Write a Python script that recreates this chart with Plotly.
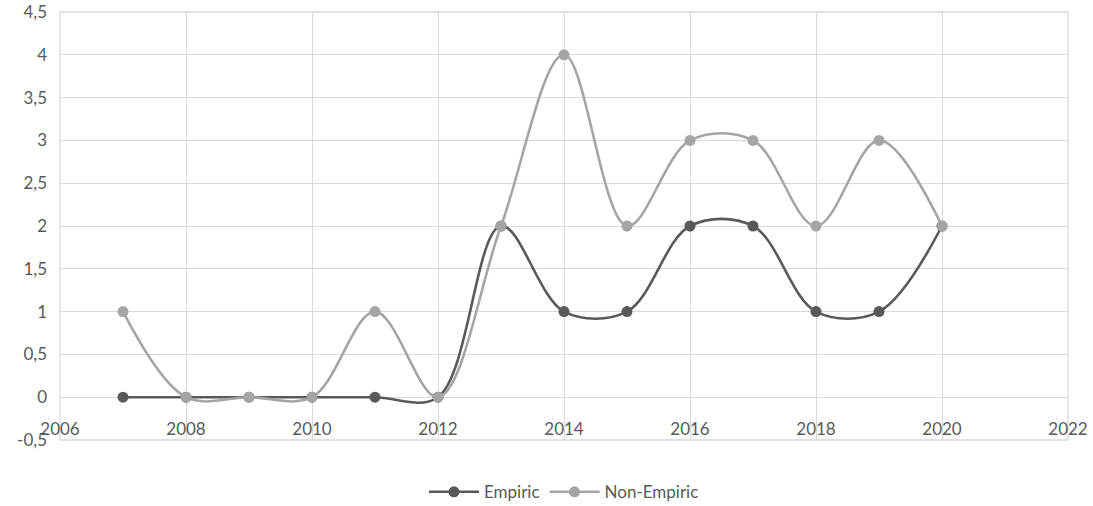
import plotly.graph_objects as go

years = [2007, 2008, 2009, 2010, 2011, 2012, 2013, 2014, 2015, 2016, 2017, 2018, 2019, 2020]
empiric = [0, 0, 0, 0, 0, 0, 2, 1, 1, 2, 2, 1, 1, 2]
non_empiric = [1, 0, 0, 0, 1, 0, 2, 4, 2, 3, 3, 2, 3, 2]

x_ticks = [2006, 2008, 2010, 2012, 2014, 2016, 2018, 2020, 2022]
y_ticks = [-0.5, 0, 0.5, 1, 1.5, 2, 2.5, 3, 3.5, 4, 4.5]
y_labels = ["-0,5", "0", "0,5", "1", "1,5", "2", "2,5", "3", "3,5", "4", "4,5"]

font_color = "#595959"
grid_color = "#d9d9d9"

fig = go.Figure()
fig.add_trace(go.Scatter(
    x=years, y=empiric, name="Empiric", mode="lines+markers",
    line=dict(color="#595959", width=2.6, shape="spline", smoothing=1),
    marker=dict(size=11, color="#595959"),
))
fig.add_trace(go.Scatter(
    x=years, y=non_empiric, name="Non-Empiric", mode="lines+markers",
    line=dict(color="#a5a5a5", width=2.6, shape="spline", smoothing=1),
    marker=dict(size=11, color="#a5a5a5"),
))

y_min, y_max = -0.5, 4.5
fig.update_layout(
    width=1093, height=506,
    margin=dict(l=60, r=25, t=12, b=66, autoexpand=False),
    paper_bgcolor="white", plot_bgcolor="white",
    font=dict(family="Lato, Open Sans, sans-serif", size=17, color=font_color),
    showlegend=True,
    legend=dict(orientation="h", x=0.5, xanchor="center", y=-0.122, yanchor="middle",
                font=dict(size=17, color=font_color), itemwidth=50),
    xaxis=dict(
        range=[2006, 2022], tickvals=x_ticks, ticktext=[str(v) for v in x_ticks],
        showgrid=True, gridcolor=grid_color, gridwidth=1.3,
        zeroline=False, showline=False, ticks="", automargin=False,
        anchor="free", position=(0 - y_min) / (y_max - y_min),
        ticklabelstandoff=20,
    ),
    yaxis=dict(
        range=[y_min, y_max], tickvals=y_ticks, ticktext=y_labels,
        showgrid=True, gridcolor=grid_color, gridwidth=1.3, automargin=False,
        zeroline=False, showline=False, ticks="", ticklabelstandoff=12,
    ),
)
fig.add_shape(type="rect", xref="paper", yref="paper", x0=0, x1=1, y0=0, y1=1,
              line=dict(color=grid_color, width=1.3), layer="below")

fig.write_html("out.html")
